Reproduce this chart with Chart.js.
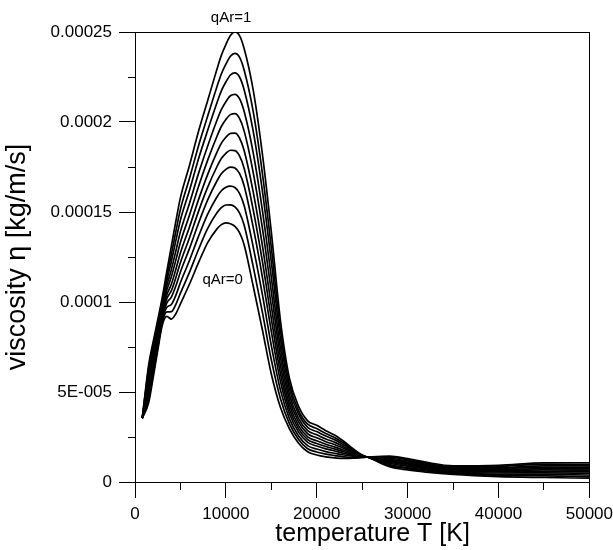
<!DOCTYPE html>
<html>
<head>
<meta charset="utf-8">
<script src="https://cdn.jsdelivr.net/npm/chart.js@4.4.1/dist/chart.umd.min.js"></script>
<style>
  html, body { margin: 0; padding: 0; background: #fff; }
  #wrap { width: 613px; height: 550px; }
</style>
</head>
<body>
<div id="wrap"><canvas id="c" width="613" height="550"></canvas></div>
<script>
// Temperature grid [K]
const temperatureK = [800, 1500, 2000, 2500, 3000, 3500, 4000, 4500, 5000, 6000, 7000, 8000, 9000, 9500, 10000, 10500, 11000, 11500, 12000, 13000, 14000, 15000, 16000, 17000, 18000, 19000, 20000, 21000, 22000, 23000, 24000, 25000, 26000, 28000, 30000, 32000, 35000, 40000, 45000, 50000];

// Viscosity values in units of 1E-005 kg/m/s, one array per argon fraction qAr
const eta_qAr00 = [3.55, 4.4, 5.8, 7.3, 8.7, 9.2, 9.05, 9.35, 9.9, 11.0, 12.2, 13.3, 14.05, 14.3, 14.4, 14.35, 14.2, 13.85, 13.2, 10.9, 8.5, 6.0, 4.15, 2.95, 2.15, 1.68, 1.5, 1.4, 1.34, 1.31, 1.32, 1.36, 1.4, 1.44, 1.3, 1.1, 0.9, 0.93, 1.06, 1.07];
const eta_qAr01 = [3.55, 4.6, 6.0, 7.46, 8.85, 9.45, 9.46, 9.87, 10.49, 11.66, 12.93, 14.09, 14.94, 15.24, 15.39, 15.4, 15.28, 14.95, 14.29, 11.99, 9.48, 6.79, 4.64, 3.23, 2.36, 1.85, 1.67, 1.55, 1.47, 1.4, 1.37, 1.37, 1.39, 1.38, 1.24, 1.05, 0.85, 0.87, 0.98, 0.98];
const eta_qAr02 = [3.55, 4.82, 6.2, 7.62, 9.0, 9.7, 9.86, 10.38, 11.08, 12.32, 13.66, 14.88, 15.82, 16.18, 16.38, 16.44, 16.36, 16.04, 15.38, 13.08, 10.46, 7.58, 5.12, 3.51, 2.56, 2.02, 1.83, 1.69, 1.59, 1.5, 1.43, 1.39, 1.38, 1.32, 1.17, 0.99, 0.8, 0.8, 0.9, 0.9];
const eta_qAr03 = [3.55, 5.04, 6.4, 7.78, 9.15, 9.95, 10.27, 10.9, 11.67, 12.98, 14.39, 15.67, 16.71, 17.12, 17.37, 17.49, 17.44, 17.14, 16.47, 14.17, 11.44, 8.37, 5.61, 3.79, 2.77, 2.2, 2.0, 1.84, 1.72, 1.59, 1.48, 1.4, 1.37, 1.26, 1.11, 0.94, 0.76, 0.74, 0.82, 0.81];
const eta_qAr04 = [3.55, 5.24, 6.58, 7.94, 9.29, 10.18, 10.63, 11.36, 12.2, 13.57, 15.05, 16.38, 17.5, 17.97, 18.26, 18.43, 18.41, 18.12, 17.45, 15.15, 12.32, 9.08, 6.04, 4.04, 2.95, 2.35, 2.14, 1.97, 1.83, 1.68, 1.53, 1.41, 1.36, 1.21, 1.05, 0.89, 0.71, 0.68, 0.74, 0.73];
const eta_qAr05 = [3.55, 5.45, 6.78, 8.1, 9.44, 10.4, 10.99, 11.82, 12.73, 14.17, 15.7, 17.09, 18.3, 18.81, 19.15, 19.37, 19.38, 19.11, 18.43, 16.13, 13.2, 9.79, 6.48, 4.29, 3.13, 2.51, 2.29, 2.1, 1.94, 1.76, 1.57, 1.43, 1.35, 1.16, 1.0, 0.84, 0.67, 0.63, 0.67, 0.66];
const eta_qAr06 = [3.55, 5.66, 6.98, 8.28, 9.6, 10.65, 11.4, 12.34, 13.32, 14.83, 16.43, 17.88, 19.18, 19.75, 20.14, 20.41, 20.46, 20.2, 19.52, 17.22, 14.18, 10.58, 6.96, 4.57, 3.34, 2.68, 2.46, 2.24, 2.07, 1.86, 1.63, 1.44, 1.34, 1.1, 0.93, 0.78, 0.62, 0.56, 0.59, 0.57];
const eta_qAr07 = [3.55, 5.87, 7.17, 8.45, 9.76, 10.9, 11.8, 12.85, 13.91, 15.49, 17.16, 18.67, 20.07, 20.69, 21.13, 21.46, 21.54, 21.3, 20.61, 18.31, 15.16, 11.37, 7.45, 4.85, 3.54, 2.85, 2.62, 2.39, 2.2, 1.95, 1.68, 1.46, 1.33, 1.04, 0.87, 0.73, 0.57, 0.5, 0.51, 0.49];
const eta_qAr08 = [3.55, 6.1, 7.38, 8.63, 9.93, 11.18, 12.25, 13.42, 14.56, 16.21, 17.97, 19.54, 21.04, 21.73, 22.22, 22.61, 22.73, 22.5, 21.81, 19.51, 16.24, 12.24, 7.98, 5.16, 3.77, 3.04, 2.8, 2.55, 2.34, 2.05, 1.74, 1.47, 1.32, 0.97, 0.8, 0.67, 0.52, 0.43, 0.42, 0.39];
const eta_qAr09 = [3.55, 6.3, 7.58, 8.8, 10.08, 11.43, 12.65, 13.93, 15.15, 16.87, 18.7, 20.33, 21.93, 22.67, 23.21, 23.65, 23.81, 23.6, 22.9, 20.6, 17.22, 13.03, 8.47, 5.44, 3.97, 3.21, 2.97, 2.69, 2.46, 2.15, 1.79, 1.48, 1.31, 0.91, 0.74, 0.61, 0.47, 0.37, 0.34, 0.3];
const eta_qAr10 = [3.55, 6.5, 7.8, 9.0, 10.25, 11.7, 13.1, 14.5, 15.8, 17.6, 19.5, 21.2, 22.9, 23.7, 24.3, 24.8, 25.0, 24.8, 24.1, 21.8, 18.3, 13.9, 9.0, 5.75, 4.2, 3.4, 3.15, 2.85, 2.6, 2.25, 1.85, 1.5, 1.3, 0.85, 0.67, 0.55, 0.42, 0.3, 0.25, 0.21];
const ETA_UNIT = 1e-5; // kg/m/s

const qArFractions = ['0', '0.1', '0.2', '0.3', '0.4', '0.5', '0.6', '0.7', '0.8', '0.9', '1'];
const seriesList = [eta_qAr00, eta_qAr01, eta_qAr02, eta_qAr03, eta_qAr04, eta_qAr05, eta_qAr06, eta_qAr07, eta_qAr08, eta_qAr09, eta_qAr10];

// Axis ticks
const xTickLabels = ['0', '10000', '20000', '30000', '40000', '50000'];
const yTickLabels = ['0', '5E-005', '0.0001', '0.00015', '0.0002', '0.00025'];

// Curve annotations (data coordinates: T [K], eta [1E-005 kg/m/s])
const curveNotes = [
  { text: 'qAr=1', T: 10570, eta: 25.78 },
  { text: 'qAr=0', T: 9640, eta: 11.22 }
];

const FONT = "'Liberation Sans', Arial, Helvetica, sans-serif";
Chart.defaults.font.family = FONT;
Chart.defaults.color = '#000';

const datasets = seriesList.map((vals, i) => ({
  label: 'qAr=' + qArFractions[i],
  data: temperatureK.map((t, j) => ({ x: t, y: vals[j] * ETA_UNIT })),
  borderColor: '#000',
  borderWidth: 1.7,
  pointRadius: 0,
  fill: false,
  cubicInterpolationMode: 'monotone'
}));

const framePlugin = {
  id: 'frame',
  afterDraw(chart) {
    const { ctx, chartArea: a, scales } = chart;
    ctx.save();
    ctx.strokeStyle = '#000';
    ctx.lineWidth = 1;
    ctx.beginPath();
    ctx.moveTo(a.left, Math.round(a.top) + 0.5);
    ctx.lineTo(a.right, Math.round(a.top) + 0.5);
    ctx.moveTo(Math.round(a.right) + 0.5, a.top);
    ctx.lineTo(Math.round(a.right) + 0.5, a.bottom);
    ctx.stroke();
    ctx.fillStyle = '#000';
    ctx.font = '15px ' + FONT;
    ctx.textAlign = 'center';
    ctx.textBaseline = 'middle';
    curveNotes.forEach(n => {
      ctx.fillText(n.text, scales.x.getPixelForValue(n.T), scales.y.getPixelForValue(n.eta * ETA_UNIT));
    });
    ctx.restore();
  }
};

new Chart(document.getElementById('c'), {
  type: 'line',
  data: { datasets },
  options: {
    responsive: false,
    animation: false,
    devicePixelRatio: 1,
    layout: { padding: { top: 32, right: 0, left: 0, bottom: 0 } },
    plugins: { legend: { display: false }, tooltip: { enabled: false } },
    scales: {
      x: {
        type: 'linear', position: 'bottom', weight: 1,
        min: 0, max: 50000,
        ticks: {
          stepSize: 10000, maxRotation: 0, autoSkip: false, padding: 0,
          font: { size: 17, lineHeight: '32px' },
          callback: (v, i) => xTickLabels[i]
        },
        grid: { drawOnChartArea: false, tickLength: 16, color: '#000', tickColor: '#000' },
        border: { display: true, color: '#000', width: 1 },
        title: { display: true, text: '\u00A0\u00A0\u00A0temperature T [K]', font: { size: 25 }, padding: { top: 0, bottom: 1 } },
        afterFit: s => { s.height = 68; }
      },
      xMinor: {
        type: 'linear', position: 'bottom', weight: 0,
        min: 0, max: 50000,
        ticks: { stepSize: 5000, display: false, autoSkip: false },
        grid: { drawOnChartArea: false, tickLength: 8, color: '#000', tickColor: '#000' },
        border: { display: false },
        afterFit: s => { s.height = 0; }
      },
      y: {
        type: 'linear', position: 'left', weight: 1,
        min: 0, max: 0.00025,
        ticks: {
          stepSize: 0.00005, autoSkip: false, padding: 7,
          font: { size: 17 },
          callback: (v, i) => yTickLabels[i]
        },
        grid: { drawOnChartArea: false, tickLength: 16, color: '#000', tickColor: '#000' },
        border: { display: true, color: '#000', width: 1 },
        title: { display: true, text: 'viscosity \u03B7 [kg/m/s]', font: { size: 27 }, padding: { top: 1, bottom: 0 } },
        afterFit: s => { s.width = 135; }
      },
      yMinor: {
        type: 'linear', position: 'left', weight: 0,
        min: 0, max: 0.00025,
        ticks: { stepSize: 0.000025, display: false, autoSkip: false },
        grid: { drawOnChartArea: false, tickLength: 7, color: '#000', tickColor: '#000' },
        border: { display: false },
        afterFit: s => { s.width = 0; }
      }
    }
  },
  plugins: [framePlugin]
});
</script>
</body>
</html>
